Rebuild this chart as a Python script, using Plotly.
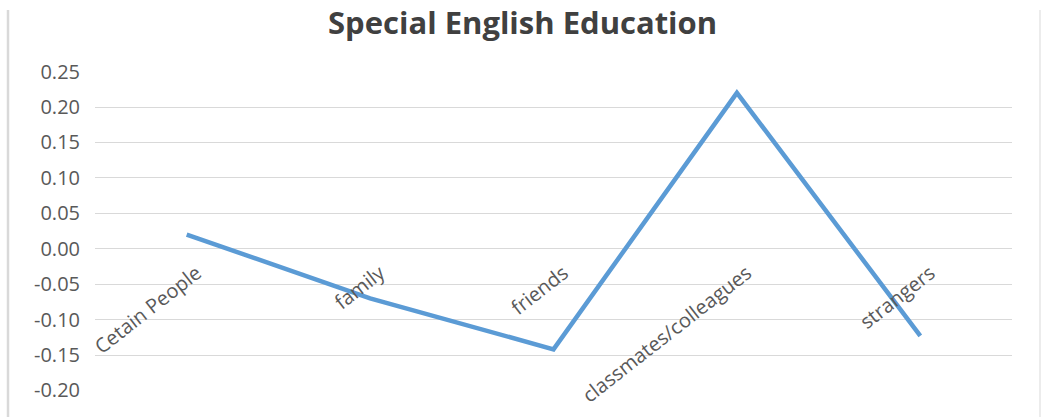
import plotly.graph_objects as go

# Category labels and the values of the single series
categories = ["Cetain People", "family", "friends", "classmates/colleagues", "strangers"]
values = [0.02, -0.07, -0.142, 0.22, -0.123]

y_min, y_max = -0.20, 0.25
y_ticks = [-0.20, -0.15, -0.10, -0.05, 0.00, 0.05, 0.10, 0.15, 0.20, 0.25]

fig = go.Figure()
fig.add_trace(go.Scatter(
    x=categories,
    y=values,
    mode="lines",
    line=dict(color="#5B9BD5", width=4.5),
    hoverinfo="x+y",
))

# Category axis sits on the zero line of the value axis
pad = 0.0008
zero_pos = (0 - (y_min - pad)) / ((y_max + pad) - (y_min - pad))

fig.update_layout(
    width=1041,
    height=417,
    margin=dict(l=95, r=29, t=71, b=26, autoexpand=False),
    paper_bgcolor="white",
    plot_bgcolor="white",
    showlegend=False,
    title=dict(
        text="<b>Special English Education</b>",
        x=0.502,
        xref="container",
        y=0.945,
        yanchor="middle",
        xanchor="center",
        font=dict(family="Open Sans", size=31, color="#404040"),
    ),
    xaxis=dict(
        type="category",
        range=[-0.5, len(categories) - 0.5],
        showgrid=False,
        showline=False,
        zeroline=False,
        automargin=False,
        ticks="",
        tickangle=-38,
        anchor="free",
        position=zero_pos,
        ticklabelstandoff=8,
        ticklabelshift=10,
        tickfont=dict(family="Open Sans", size=20, color="#595959"),
    ),
    yaxis=dict(
        range=[y_min - pad, y_max + pad],
        tickvals=y_ticks,
        ticktext=[f"{v:.2f}" for v in y_ticks],
        showgrid=True,
        gridcolor="#d9d9d9",
        gridwidth=1.3,
        zeroline=False,
        showline=False,
        automargin=False,
        ticks="",
        ticklabelstandoff=14,
        tickfont=dict(family="Open Sans", size=20, color="#595959"),
    ),
    shapes=[
        dict(type="line", xref="paper", yref="paper",
             x0=-95 / 917 + 8 / 917, x1=-95 / 917 + 8 / 917,
             y0=-26 / 320, y1=(417 - 10 - 26) / 320,
             line=dict(color="#d9d9d9", width=2.5)),
        dict(type="line", xref="paper", yref="paper",
             x0=(1040 - 95) / 917, x1=(1040 - 95) / 917,
             y0=-26 / 320, y1=(417 - 10 - 26) / 320,
             line=dict(color="#e6e6e6", width=1.5)),
    ],
)

fig.write_html("out.html")
